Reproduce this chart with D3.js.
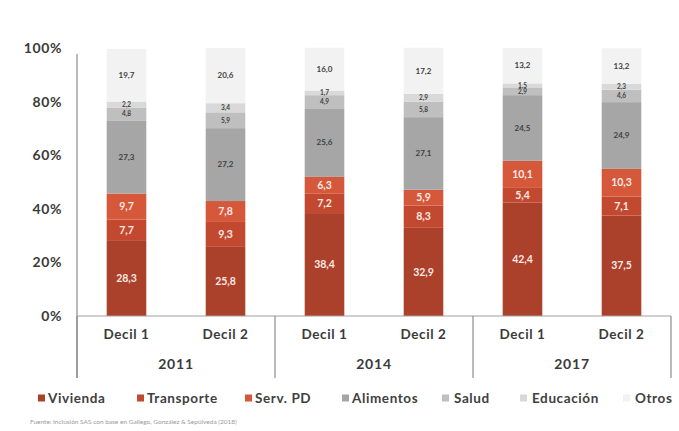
<!DOCTYPE html>
<html><head><meta charset="utf-8">
<script src="https://cdn.jsdelivr.net/npm/d3@7"></script>
<style>body{margin:0;background:#fff}svg{display:block}text{font-family:Lato,"Open Sans",sans-serif}</style>
</head><body><svg id="c" width="679" height="431"></svg>
<script>
const years = ["2011","2014","2017"];
const deciles = ["Decil 1","Decil 2"];
const series = ["Vivienda","Transporte","Serv. PD","Alimentos","Salud","Educación","Otros"];
const colors = ["#ab402b","#c2492f","#d5583b","#a6a6a6","#bfbfbf","#d9d9d9","#f2f2f2"];
const yTicks = [0,20,40,60,80,100];
const vivienda   = [28.3,25.8,38.4,32.9,42.4,37.5];
const transporte = [7.7,9.3,7.2,8.3,5.4,7.1];
const servPD     = [9.7,7.8,6.3,5.9,10.1,10.3];
const alimentos  = [27.3,27.2,25.6,27.1,24.5,24.9];
const salud      = [4.8,5.9,4.9,5.8,2.9,4.6];
const educacion  = [2.2,3.4,1.7,2.9,1.5,2.3];
const otros      = [19.7,20.6,16.0,17.2,13.2,13.2];
const source = "Fuente: Inclusión SAS con base en Gallego, González & Sepúlveda (2018)";

(function(){
const vals = [vivienda,transporte,servPD,alimentos,salud,educacion,otros];
const cats = [];
years.forEach(y=>deciles.forEach(d=>cats.push(y+"|"+d)));
const rows = cats.map((c,i)=>{const o={key:c};series.forEach((s,j)=>o[s]=vals[j][i]);return o;});
const stack = d3.stack().keys(series)(rows);

const svg = d3.select("#c");
const pL=77, pR=671, pT=48, pB=316;
const x = d3.scaleBand().domain(cats).range([pL,pR]).paddingInner(0.6).paddingOuter(0.3);
const y = d3.scaleLinear().domain([0,100]).range([pB,pT]);

stack.forEach((layer,j)=>{
  svg.append("g").selectAll("rect").data(layer).join("rect")
    .attr("x",d=>x(d.data.key)).attr("width",x.bandwidth())
    .attr("y",d=>y(d[1])).attr("height",d=>y(d[0])-y(d[1]))
    .attr("fill",colors[j]);
});
const fmt = v=>d3.format(".1f")(v).replace(".",",");
stack.forEach((layer,j)=>{
  const red = j<3;
  const size = j<3?10.5:(j===3||j===6?8:6.5);
  svg.append("g").selectAll("text").data(layer).join("text")
    .attr("x",d=>x(d.data.key)+x.bandwidth()/2)
    .attr("y",d=>(y(d[0])+y(d[1]))/2)
    .attr("dy","0.35em").attr("text-anchor","middle")
    .attr("font-size",size).attr("font-weight","bold")
    .attr("fill",red?"#fbe9e4":"#3f3f3f")
    .text(d=>fmt(d.data[series[j]]));
});

const ya = svg.append("g").attr("transform",`translate(${pL},0)`)
  .call(d3.axisLeft(y).tickValues(yTicks).tickSize(0).tickPadding(15).tickFormat(d=>d+"%"));
ya.select(".domain").remove();
ya.selectAll("text").attr("font-size",14).attr("font-weight","bold").attr("letter-spacing",0.6).attr("fill","#3a3a3a").style("font-family","Lato, sans-serif");
svg.append("line").attr("x1",pL).attr("x2",pL).attr("y1",pT+6).attr("y2",378).attr("stroke","#8c8c8c").attr("stroke-width",1.2);
svg.append("line").attr("x1",pL).attr("x2",pR).attr("y1",pB).attr("y2",pB).attr("stroke","#a0a0a0").attr("stroke-width",1);
const xa = svg.append("g").attr("transform",`translate(0,${pB})`)
  .call(d3.axisBottom(x).tickSize(0).tickPadding(13).tickFormat(d=>d.split("|")[1]));
xa.select(".domain").remove();
xa.selectAll("text").attr("font-size",13.5).attr("font-weight","bold").attr("letter-spacing",0.6).attr("fill","#3a3a3a").style("font-family","Lato, sans-serif");
const gx = d3.scaleBand().domain(years).range([pL,pR]);
[...years.map(yy=>gx(yy)), pR].forEach(px=>{
  svg.append("line").attr("x1",px).attr("x2",px).attr("y1",pB).attr("y2",378).attr("stroke","#8c8c8c").attr("stroke-width",1.2);
});
svg.append("g").selectAll("text").data(years).join("text")
  .attr("x",d=>gx(d)+gx.bandwidth()/2).attr("y",369).attr("text-anchor","middle")
  .attr("font-size",14).attr("letter-spacing",0.8).attr("fill","#3a3a3a").attr("font-weight","bold").text(d=>d);

const lx = [38,137,245,342,442,520,623];
const lg = svg.append("g").selectAll("g").data(series).join("g")
  .attr("transform",(d,i)=>`translate(${lx[i]},398)`);
lg.append("rect").attr("x",0).attr("y",-3.5).attr("width",7).attr("height",7).attr("fill",(d,i)=>colors[i]);
lg.append("text").attr("x",(d,i)=>i>=4?12:10).attr("dy","0.35em").attr("font-size",13.5).attr("letter-spacing",0.6).attr("font-weight","bold").attr("fill","#404040").text(d=>d);

svg.append("text").attr("x",30).attr("y",424).attr("font-size",6.5).attr("fill","#9a9a9a").text(source);
})();
</script></body></html>
